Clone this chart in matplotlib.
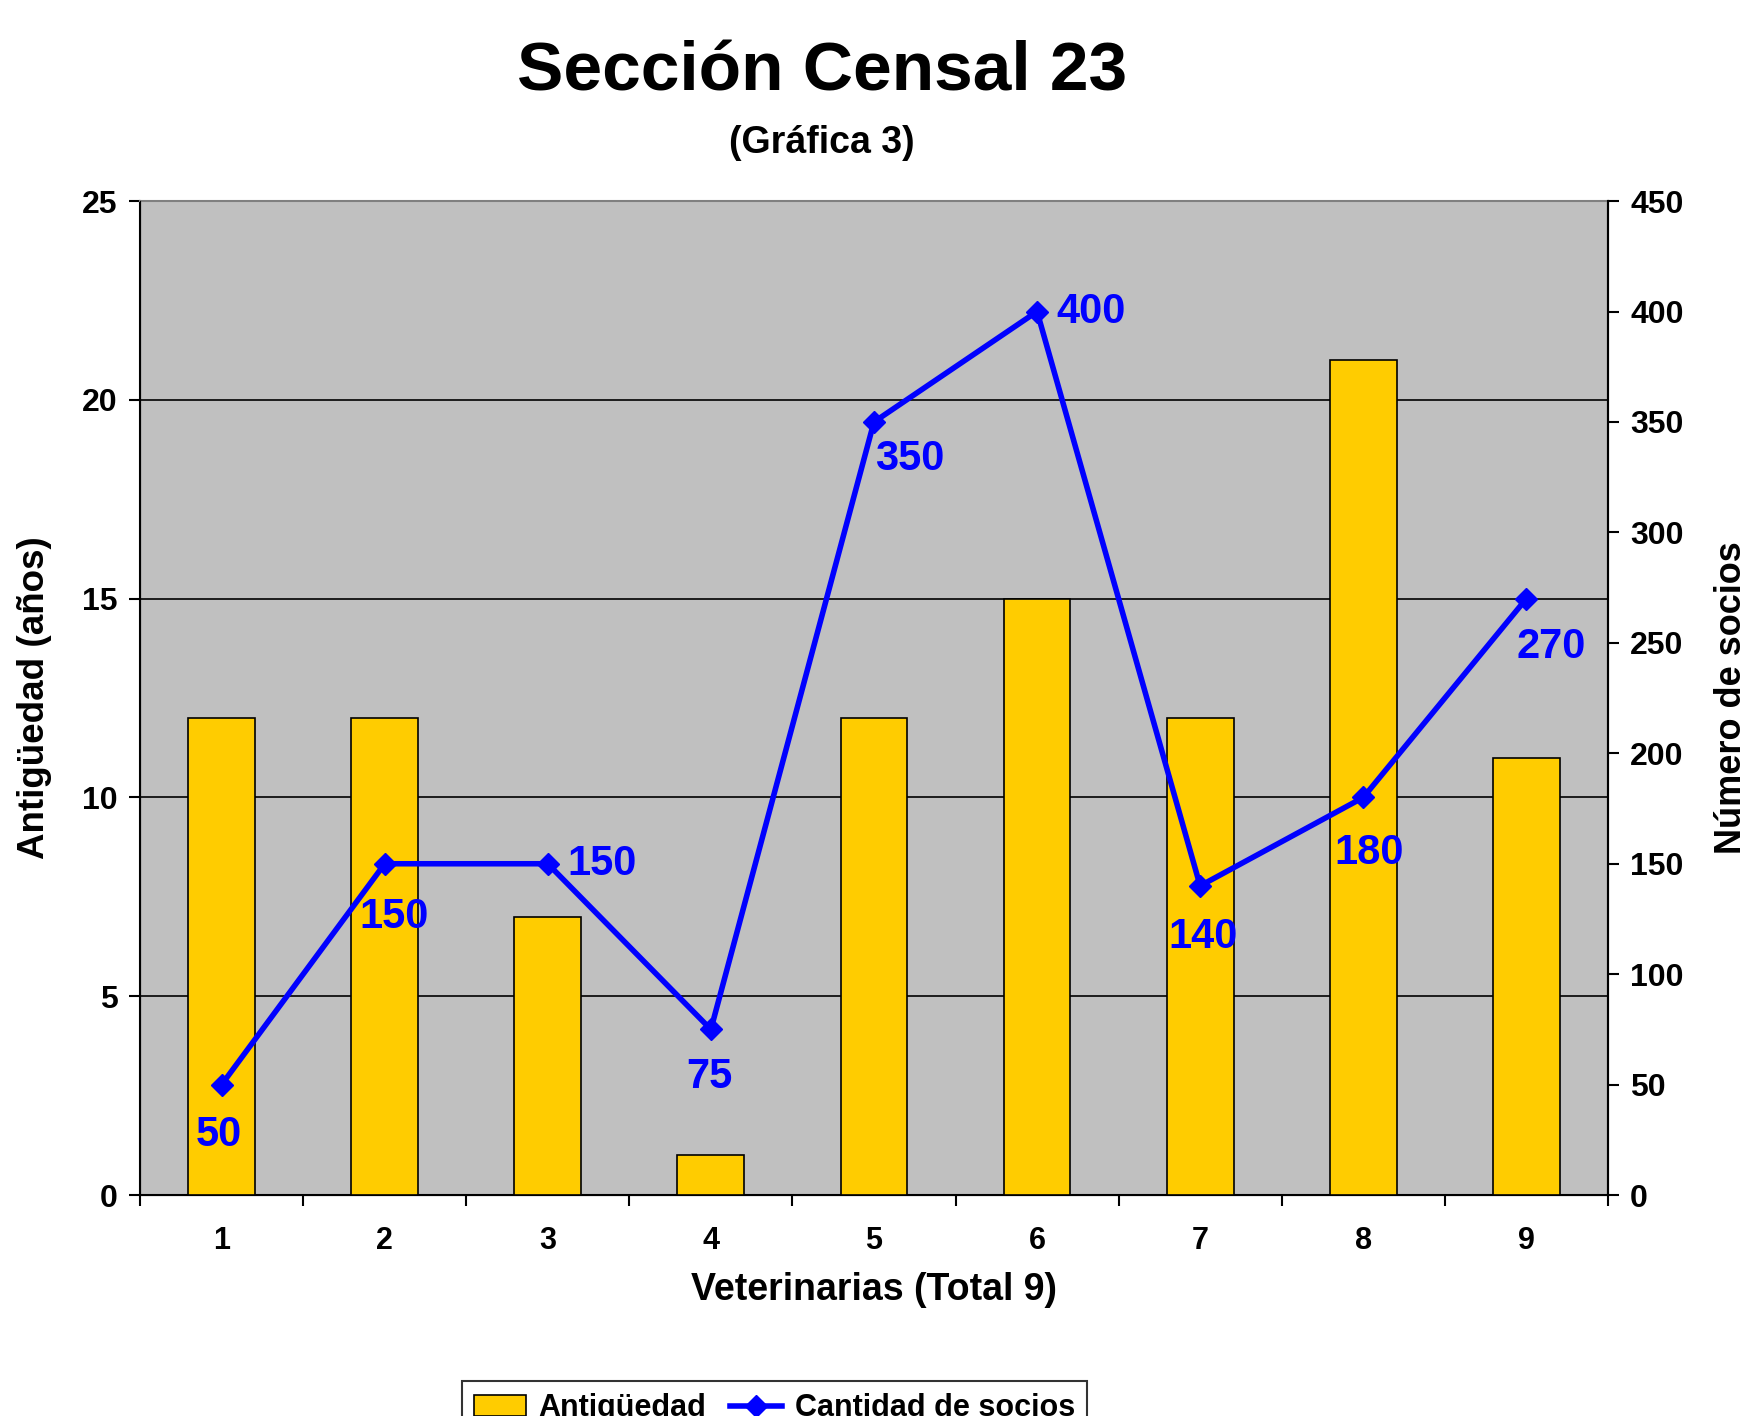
import matplotlib.pyplot as plt
from matplotlib.ticker import MultipleLocator, FixedLocator

plt.rcParams['font.family'] = ['Liberation Sans', 'DejaVu Sans']
plt.rcParams['font.weight'] = 'bold'

veterinarias = [1, 2, 3, 4, 5, 6, 7, 8, 9]
antiguedad = [12, 12, 7, 1, 12, 15, 12, 21, 11]
socios = [50, 150, 150, 75, 350, 400, 140, 180, 270]

# label offsets in points (dx, dy), label alignment
label_off = [(-2, -36), (7, -38), (14, 0), (-1, -34), (26, -27), (14, 0), (2, -37), (4, -40), (18, -35)]
label_ha = ['center', 'center', 'left', 'center', 'center', 'left', 'center', 'center', 'center']

fig = plt.figure(figsize=(17.42, 14.16), dpi=100)
ax = fig.add_axes([0.0804, 0.156, 0.8426, 0.702])
ax.set_facecolor('#C0C0C0')

bars = ax.bar(veterinarias, antiguedad, width=0.41, color='#FFCC00', edgecolor='black',
              linewidth=1.2, zorder=3, label='Antigüedad')
ax.set_xlim(0.5, 9.5)
ax.set_ylim(0, 25)
ax.yaxis.set_major_locator(MultipleLocator(5))
ax.grid(axis='y', color='black', linewidth=1.2, zorder=1)
ax.set_axisbelow(True)
ax.set_xticks(veterinarias)
ax.xaxis.set_minor_locator(FixedLocator([x + 0.5 for x in range(0, 10)]))
ax.tick_params(axis='x', which='major', length=0, labelsize=22, pad=22)
ax.tick_params(axis='x', which='minor', length=8, width=1.5, direction='out')
ax.tick_params(axis='y', length=8, width=1.5, direction='out', labelsize=23, pad=8)
for lab in ax.get_xticklabels() + ax.get_yticklabels():
    lab.set_fontweight('bold')
ax.spines['top'].set_color('#808080')
ax.spines['top'].set_linewidth(1.5)
for s in ['left', 'bottom', 'right']:
    ax.spines[s].set_linewidth(1.5)
ax.set_xlabel('Veterinarias (Total 9)', fontsize=27, fontweight='bold', labelpad=12)
ax.set_ylabel('Antigüedad (años)', fontsize=26.5, fontweight='bold', labelpad=22)

ax2 = ax.twinx()
line, = ax2.plot(veterinarias, socios, color='#0000FF', linewidth=4, marker='D',
                 markersize=11, zorder=4, label='Cantidad de socios')
ax2.set_ylim(0, 450)
ax2.yaxis.set_major_locator(MultipleLocator(50))
ax2.tick_params(axis='y', length=8, width=1.5, direction='out', labelsize=23, pad=8)
for lab in ax2.get_yticklabels():
    lab.set_fontweight('bold')
ax2.spines['right'].set_linewidth(1.5)
ax2.spines['top'].set_visible(False)
ax2.set_ylabel('Número de socios', fontsize=26, fontweight='bold', labelpad=22)

for x, y, off, ha in zip(veterinarias, socios, label_off, label_ha):
    ax2.annotate(str(y), (x, y), xytext=off, textcoords='offset points', ha=ha, va='center',
                 color='#0000FF', fontsize=30, fontweight='bold', zorder=5)

fig.text(0.472, 0.949, 'Sección Censal 23', ha='center', va='center', fontsize=50, fontweight='bold')
fig.text(0.472, 0.899, '(Gráfica 3)', ha='center', va='center', fontsize=27, fontweight='bold')

leg = fig.legend([bars, line], ['Antigüedad', 'Cantidad de socios'], loc='upper center',
                 bbox_to_anchor=(0.4445, 0.0247), ncol=2, fontsize=22, frameon=True,
                 fancybox=False, edgecolor='black', handlelength=1.7, columnspacing=0.8,
                 handletextpad=0.4, borderpad=0.4, borderaxespad=0)
leg.get_frame().set_linewidth(1.5)
for t in leg.get_texts():
    t.set_fontweight('bold')

fig.savefig('out.png', dpi=100)
